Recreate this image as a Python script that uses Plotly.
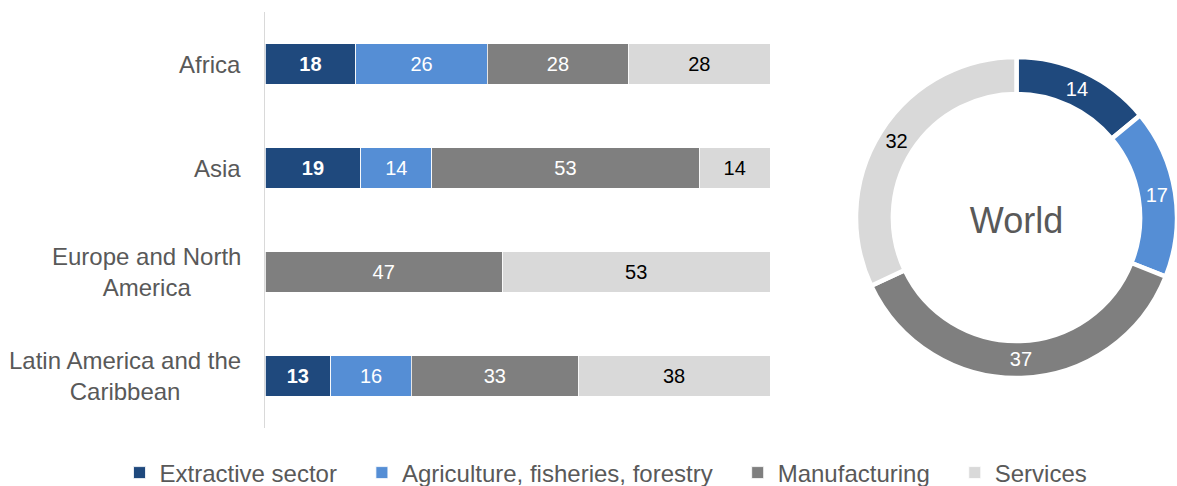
import plotly.graph_objects as go

# Sector shares of each region (percent)
regions = ["Africa", "Asia", "Europe and North<br>America", "Latin America and the<br>Caribbean"]
sectors = ["Extractive sector", "Agriculture, fisheries, forestry", "Manufacturing", "Services"]
extractive = [18, 19, 0, 13]
agriculture = [26, 14, 0, 16]
manufacturing = [28, 53, 47, 33]
services = [28, 14, 53, 38]

# World totals for the donut
world_values = [14, 17, 37, 32]
world_label = "World"

colors = ["#1F497D", "#558ED5", "#7F7F7F", "#D9D9D9"]
text_colors = ["white", "white", "white", "black"]
bold = [True, False, False, False]

FONT = "Liberation Sans, Arial, sans-serif"
GREY_TEXT = "#595959"
W, H = 1177, 486

fig = go.Figure()

# extra spacing after each legend entry
legend_pad = "\u00a0" * 3

series = [extractive, agriculture, manufacturing, services]
for i, (name, vals, col, tcol, b) in enumerate(zip(sectors, series, colors, text_colors, bold)):
    labels = [str(v) if v else "" for v in vals]
    fig.add_trace(go.Bar(
        y=regions,
        x=vals,
        name=name + (legend_pad if i < len(sectors) - 1 else ""),
        orientation="h",
        marker=dict(color=col, line=dict(color="white", width=0.8)),
        text=labels,
        texttemplate="<b>%{text}</b>" if b else "%{text}",
        textposition="inside",
        insidetextanchor="middle",
        textangle=0,
        constraintext="none",
        textfont=dict(family=FONT, size=20, color=tcol),
        hoverinfo="skip",
    ))

# Donut for the world total
r_px = 160.5
cx_px, cy_px = W - r_px, 217.5
fig.add_trace(go.Pie(
    values=world_values,
    labels=sectors,
    sort=False,
    direction="clockwise",
    rotation=0,
    hole=0.77,
    marker=dict(colors=colors, line=dict(color="white", width=4.5)),
    textinfo="value",
    textposition="inside",
    insidetextorientation="horizontal",
    textfont=dict(family=FONT, size=20, color=text_colors),
    showlegend=False,
    title=dict(text=world_label, position="middle center",
               font=dict(family=FONT, size=36, color=GREY_TEXT)),
    domain=dict(
        x=[(cx_px - r_px) / W, 1.0],
        y=[(H - cy_px - r_px) / H, (H - cy_px + r_px) / H],
    ),
    hoverinfo="skip",
))

x0_px, x1_px = 265, 770
y_top, y_bot = 12, 428

# Region names, centred line by line, right-aligned against the axis
for reg in regions:
    fig.add_annotation(
        x=243 / W, xref="paper", xanchor="right",
        y=reg, yref="y", yanchor="middle",
        text=reg, align="center", showarrow=False,
        font=dict(family=FONT, size=24, color=GREY_TEXT),
    )

fig.update_layout(
    width=W,
    height=H,
    margin=dict(l=0, r=0, t=0, b=0, autoexpand=False),
    barmode="stack",
    bargap=0.615,
    plot_bgcolor="white",
    paper_bgcolor="white",
    font=dict(family=FONT, color=GREY_TEXT),
    xaxis=dict(
        domain=[x0_px / W, x1_px / W],
        range=[0, 100],
        visible=False,
        fixedrange=True,
    ),
    yaxis=dict(
        domain=[(H - y_bot) / H, (H - y_top) / H],
        autorange="reversed",
        showline=True,
        linecolor="#D9D9D9",
        linewidth=1.2,
        showgrid=False,
        zeroline=False,
        ticks="",
        showticklabels=False,
        automargin=False,
    ),
    legend=dict(
        orientation="h",
        x=606 / W,
        xanchor="center",
        y=(H - 473) / H,
        yanchor="middle",
        font=dict(family=FONT, size=24, color=GREY_TEXT),
        traceorder="normal",
        bgcolor="rgba(0,0,0,0)",
    ),
)

fig.write_html("out.html")
